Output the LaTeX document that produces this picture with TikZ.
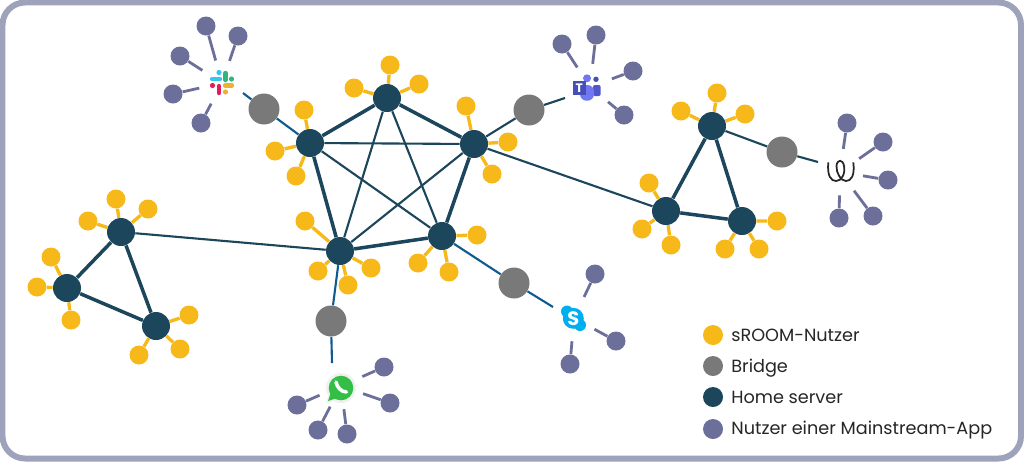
\documentclass[tikz,border=0pt]{standalone}
\usepackage{fontspec}
\setmainfont{Poppins}
\usetikzlibrary{arrows}

\definecolor{sroomcol}{HTML}{F7B819}
\definecolor{bridgecol}{HTML}{797979}
\definecolor{homecol}{HTML}{1C465C}
\definecolor{appcol}{HTML}{6B6F99}
\definecolor{framecol}{HTML}{9EA2BB}
\definecolor{linkcol}{HTML}{0F5A8E}

\tikzset{
	sroom/.style={circle, fill=sroomcol, minimum size=0.38cm, inner sep=0},
	bridge/.style={circle, fill=bridgecol, minimum size=0.62cm, inner sep=0},
	home/.style={circle, fill=homecol, minimum size=0.56cm, inner sep=0},
	appuser/.style={circle, fill=appcol, minimum size=0.38cm, inner sep=0},
	appname/.style={circle, minimum size=0.92cm, inner sep=0},
	legdot/.style={circle, minimum size=0.4cm, inner sep=0},
	legtext/.style={anchor=base west, inner sep=0, font=\fontsize{10.05}{12}\selectfont, text=black!85},
	strong/.style={draw=homecol, line width=2pt},
	weak/.style={draw=homecol, line width=1.2pt},
	bridged/.style={draw=linkcol, line width=1.2pt},
	yspoke/.style={draw=sroomcol, line width=1.9pt},
	pspoke/.style={draw=appcol, line width=1.6pt},
	logobar/.style={line width=2.5pt, line cap=round}
}

\begin{document}
\begin{tikzpicture}[x=0.02cm, y=-0.02cm]
\useasboundingbox (0,0) rectangle (1024,461);
\draw[draw=framecol, line width=3.4pt, rounded corners=0.45cm] (2.5,2.5) rectangle (1021,458.5);

% home servers
\path (310,143) node[home] (h1) {}
	  (387,98) node[home] (h2) {}
	  (474,144) node[home] (h3) {}
	  (442,236) node[home] (h4) {}
	  (340,251) node[home] (h5) {}
	  (121,232) node[home] (l1) {}
	  (67,288) node[home] (l2) {}
	  (156,326) node[home] (l3) {}
	  (712,126) node[home] (r1) {}
	  (666,211) node[home] (r2) {}
	  (742,221) node[home] (r3) {};

% bridges
\path (264,109) node[bridge] (b1) {}
	  (529,110) node[bridge] (b2) {}
	  (782,152) node[bridge] (b3) {}
	  (331,321) node[bridge] (b4) {}
	  (514,283) node[bridge] (b5) {};

% apps
\path (222,83) node[appname] (slack) {}
	  (590,87) node[appname] (teams) {}
	  (840,172) node[appname] (wire) {}
	  (341,386) node[appname] (whatsapp) {}
	  (574,318) node[appname] (skype) {};

% free ends of the bridge links
\coordinate (slackend) at (243,93);
\coordinate (teamsend) at (565,98);
\coordinate (wireend) at (818,162);
\coordinate (whatsappend) at (332,363);
\coordinate (skypeend) at (553,307);

% sroom users
\path (304,110) node[sroom] (s1) {}
	  (275,151) node[sroom] (s2) {}
	  (296,176) node[sroom] (s3) {}
	  (390,65) node[sroom] (s4) {}
	  (354,88) node[sroom] (s5) {}
	  (419,84) node[sroom] (s6) {}
	  (466,106) node[sroom] (s7) {}
	  (508,142) node[sroom] (s8) {}
	  (492,174) node[sroom] (s9) {}
	  (477,235) node[sroom] (s10) {}
	  (449,272) node[sroom] (s11) {}
	  (418,263) node[sroom] (s12) {}
	  (305,221) node[sroom] (s13) {}
	  (318,271) node[sroom] (s14) {}
	  (348,285) node[sroom] (s15) {}
	  (371,268) node[sroom] (s16) {};

\path (116,199) node[sroom] (s17) {}
	  (88,221) node[sroom] (s18) {}
	  (148,209) node[sroom] (s19) {}
	  (51,257) node[sroom] (s20) {}
	  (37,287) node[sroom] (s21) {}
	  (71,320) node[sroom] (s22) {}
	  (189,315) node[sroom] (s23) {}
	  (180,349) node[sroom] (s24) {}
	  (139,355) node[sroom] (s25) {};

\path (681,111) node[sroom] (s26) {}
	  (717,93) node[sroom] (s27) {}
	  (745,114) node[sroom] (s28) {}
	  (649,183) node[sroom] (s29) {}
	  (642,229) node[sroom] (s30) {}
	  (671,245) node[sroom] (s31) {}
	  (777,221) node[sroom] (s32) {}
	  (759,249) node[sroom] (s33) {}
	  (725,249) node[sroom] (s34) {};

% mainstream users
\path (206,26) node[appuser] (p1) {}
	  (238,36) node[appuser] (p2) {}
	  (180,56) node[appuser] (p3) {}
	  (173,94) node[appuser] (p4) {}
	  (201,123) node[appuser] (p5) {}
	  (562,44) node[appuser] (p6) {}
	  (596,35) node[appuser] (p7) {}
	  (633,71) node[appuser] (p8) {}
	  (624,115) node[appuser] (p9) {}
	  (847,123) node[appuser] (p10) {}
	  (883,142) node[appuser] (p11) {}
	  (888,180) node[appuser] (p12) {}
	  (873,216) node[appuser] (p13) {}
	  (839,218) node[appuser] (p14) {}
	  (384,367) node[appuser] (p15) {}
	  (390,403) node[appuser] (p16) {}
	  (347,434) node[appuser] (p17) {}
	  (318,430) node[appuser] (p18) {}
	  (297,405) node[appuser] (p19) {}
	  (595,274) node[appuser] (p20) {}
	  (616,341) node[appuser] (p21) {}
	  (570,364) node[appuser] (p22) {};

% server links
\draw[strong] (h1) to (h2);
\draw[strong] (h2) to (h3);
\draw[strong] (h3) to (h4);
\draw[strong] (h4) to (h5);
\draw[strong] (h5) to (h1);
\draw[weak] (h1) to (h3);
\draw[weak] (h1) to (h4);
\draw[weak] (h2) to (h4);
\draw[weak] (h2) to (h5);
\draw[weak] (h3) to (h5);
\draw[weak] (h3) to (r2);
\draw[weak] (l1) to (h5);
\draw[strong] (l1) to (l2);
\draw[strong] (l2) to (l3);
\draw[strong] (l3) to (l1);
\draw[strong] (r1) to (r2);
\draw[strong] (r2) to (r3);
\draw[strong] (r3) to (r1);

% bridge links
\draw[bridged] (h1) to (b1);
\draw[bridged] (b1) to (slackend);
\draw[weak] (h3) to (b2);
\draw[weak] (b2) to (teamsend);
\draw[weak] (r1) to (b3);
\draw[weak] (b3) to (wireend);
\draw[bridged] (h5) to (b4);
\draw[bridged] (b4) to (whatsappend);
\draw[bridged] (h4) to (b5);
\draw[bridged] (b5) to (skypeend);

% sroom spokes
\draw[yspoke] (h1) to (s1) (h1) to (s2) (h1) to (s3);
\draw[yspoke] (h2) to (s4) (h2) to (s5) (h2) to (s6);
\draw[yspoke] (h3) to (s7) (h3) to (s8) (h3) to (s9);
\draw[yspoke] (h4) to (s10) (h4) to (s11) (h4) to (s12);
\draw[yspoke] (h5) to (s13) (h5) to (s14) (h5) to (s15) (h5) to (s16);
\draw[yspoke] (l1) to (s17) (l1) to (s18) (l1) to (s19);
\draw[yspoke] (l2) to (s20) (l2) to (s21) (l2) to (s22);
\draw[yspoke] (l3) to (s23) (l3) to (s24) (l3) to (s25);
\draw[yspoke] (r1) to (s26) (r1) to (s27) (r1) to (s28);
\draw[yspoke] (r2) to (s29) (r2) to (s30) (r2) to (s31);
\draw[yspoke] (r3) to (s32) (r3) to (s33) (r3) to (s34);

% app spokes
\draw[pspoke] (p1) to (slack) (p2) to (slack) (p3) to (slack) (p4) to (slack) (p5) to (slack);
\draw[pspoke] (p6) to (teams) (p7) to (teams) (p8) to (teams) (p9) to (teams);
\draw[pspoke] (p10) to (wire) (p11) to (wire) (p12) to (wire) (p13) to (wire) (p14) to (wire);
\draw[pspoke] (p15) to (whatsapp) (p16) to (whatsapp) (p17) to (whatsapp) (p18) to (whatsapp) (p19) to (whatsapp);
\draw[pspoke] (p20) to (skype) (p21) to (skype) (p22) to (skype);

% slack logo
\begin{scope}[shift={(slack)}]
\draw[logobar, color={rgb,255:red,54;green,197;blue,240}] (-10,-4) -- (-2,-4);
\fill[color={rgb,255:red,54;green,197;blue,240}] (-3,-10.5) circle (2.6);
\draw[logobar, color={rgb,255:red,46;green,182;blue,125}] (3.5,-10) -- (3.5,-3);
\fill[color={rgb,255:red,46;green,182;blue,125}] (9.5,-4) circle (2.6);
\draw[logobar, color={rgb,255:red,224;green,30;blue,90}] (-3,3) -- (-3,10);
\fill[color={rgb,255:red,224;green,30;blue,90}] (-9.5,2.5) circle (2.6);
\draw[logobar, color={rgb,255:red,236;green,178;blue,46}] (3,2.5) -- (10,2.5);
\fill[color={rgb,255:red,236;green,178;blue,46}] (3.5,9) circle (2.6);
\end{scope}

% teams logo
\begin{scope}[shift={(teams)}]
\fill[color={rgb,255:red,70;green,78;blue,184}] (6,-7.7) circle (2.7);
\fill[color={rgb,255:red,79;green,88;blue,202}, rounded corners=0.04cm] (3,-2) rectangle (10.7,9);
\fill[color={rgb,255:red,111;green,120;blue,240}] (-3,-8.7) circle (4);
\fill[color={rgb,255:red,111;green,120;blue,240}, rounded corners=0.13cm] (-10,-2) rectangle (4,13.7);
\fill[color={rgb,255:red,70;green,78;blue,184}] (-17.3,-6.3) rectangle (-4,7.7);
\node[text=white, inner sep=0, font=\fontsize{7}{7}\selectfont\bfseries] (teamsT) at (-10.7,0.7) {T};
\end{scope}

% wire logo
\begin{scope}[shift={(wire)}]
\draw[black!85, line width=1pt] (-11.7,-9.7) .. controls (-13,4) and (-9,9) .. (-4,9)
	.. controls (1.5,9) and (5.5,2) .. (4,-6)
	.. controls (3,-13) and (-3,-13) .. (-3.5,-6)
	.. controls (-4,1) and (1,9) .. (6,9)
	.. controls (11,9) and (15,4) .. (13.3,-9.7);
\end{scope}

% whatsapp logo
\begin{scope}[shift={(whatsapp)}]
\fill[black!6] (0,2) circle (15);
\fill[black!6] (-15,17) -- (-11,5) -- (-3,14) -- cycle;
\fill[color={rgb,255:red,51;green,190;blue,70}] (0,2) circle (12.3);
\fill[color={rgb,255:red,51;green,190;blue,70}] (-13,15) -- (-10,6) -- (-4,12) -- cycle;
\draw[white, line width=2pt, line cap=round] (-5,-4) .. controls (-4,1) and (0,6) .. (5.5,6);
\end{scope}

% skype logo
\begin{scope}[shift={(skype)}]
\fill[color={rgb,255:red,0;green,175;blue,240}] (-0.7,0.3) circle (10.5);
\fill[color={rgb,255:red,0;green,175;blue,240}] (-7,-6.5) circle (6);
\fill[color={rgb,255:red,0;green,175;blue,240}] (6,7) circle (6);
\node[text=white, inner sep=0, font=\fontsize{11}{11}\selectfont\bfseries] (skypeS) at (-0.7,0.3) {S};
\end{scope}

% legend
\path (713,335) node[legdot, fill=sroomcol] (k1) {}
	  (713,366) node[legdot, fill=bridgecol] (k2) {}
	  (713,397) node[legdot, fill=homecol] (k3) {}
	  (713,429) node[legdot, fill=appcol] (k4) {};
\path (731,341) node[legtext] (t1) {sROOM-Nutzer}
	  (731,372) node[legtext] (t2) {Bridge}
	  (731,403.5) node[legtext] (t3) {Home server}
	  (731,434.5) node[legtext] (t4) {Nutzer einer Mainstream-App};
\end{tikzpicture}
\end{document}
